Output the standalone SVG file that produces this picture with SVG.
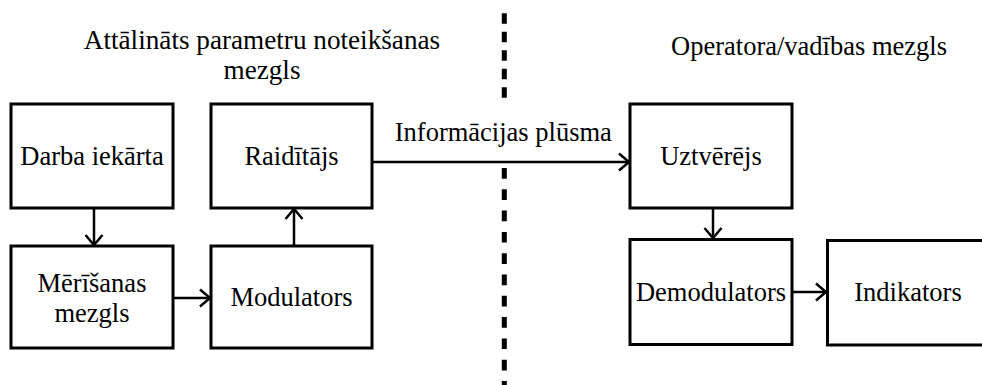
<svg xmlns="http://www.w3.org/2000/svg" width="982" height="385" viewBox="0 0 982 385">
  <style>
    .box { fill: #fff; stroke: #000; stroke-width: 3; }
    .lbl { font-family: "Liberation Serif", "Times New Roman", serif; font-size: 26.5px; fill: #000; text-anchor: middle; }
    .wire { stroke: #000; stroke-width: 2.5; fill: none; }
    .divider { stroke: #000; stroke-width: 5; fill: none; }
  </style>
  <defs>
    <marker id="head" markerUnits="userSpaceOnUse" markerWidth="24" markerHeight="24" viewBox="-12 -12 24 24" refX="0" refY="0" orient="auto">
      <path d="M -10 -8.5 L 0 0 L -10 8.5" fill="none" stroke="#000" stroke-width="2.5"/>
    </marker>
  </defs>

  <rect width="982" height="385" fill="#fff"/>

  <!-- section titles -->
  <g id="title-remote">
    <text class="lbl" x="262" y="49" style="font-size:27.2px">Attālināts parametru noteikšanas</text>
    <text class="lbl" x="262" y="78.5" style="font-size:27.2px">mezgls</text>
  </g>
  <g id="title-operator">
    <text class="lbl" x="809" y="54.5">Operatora/vadības mezgls</text>
  </g>

  <!-- dashed boundary between the two sites -->
  <g id="boundary">
    <line class="divider" x1="504.3" y1="13.3" x2="504.3" y2="98" stroke-dasharray="10.5 8"/>
    <line class="divider" x1="504.3" y1="168" x2="504.3" y2="385" stroke-dasharray="10.7 10.6"/>
  </g>

  <!-- connectors -->
  <g id="connectors">
    <line class="wire" x1="94" y1="208" x2="94" y2="245" marker-end="url(#head)"/>
    <line class="wire" x1="173" y1="298" x2="210" y2="298" marker-end="url(#head)"/>
    <line class="wire" x1="294" y1="246" x2="294" y2="209" marker-end="url(#head)"/>
    <line class="wire" x1="372" y1="162" x2="629" y2="162" marker-end="url(#head)"/>
    <line class="wire" x1="713" y1="208" x2="713" y2="238" marker-end="url(#head)"/>
    <line class="wire" x1="792" y1="292" x2="826" y2="292" marker-end="url(#head)"/>
    <text class="lbl" x="503.3" y="140.5">Informācijas plūsma</text>
  </g>

  <!-- remote sensing node -->
  <g id="darba-iekarta">
    <rect class="box" x="11" y="104" width="162" height="104"/>
    <text class="lbl" x="92" y="165">Darba iekārta</text>
  </g>
  <g id="raiditajs">
    <rect class="box" x="211" y="104" width="161" height="104"/>
    <text class="lbl" x="291.5" y="165">Raidītājs</text>
  </g>
  <g id="merisanas-mezgls">
    <rect class="box" x="11" y="246" width="162" height="102"/>
    <text class="lbl" x="92" y="291.5">Mērīšanas</text>
    <text class="lbl" x="92" y="321.5">mezgls</text>
  </g>
  <g id="modulators">
    <rect class="box" x="211" y="246" width="161" height="102"/>
    <text class="lbl" x="291.5" y="306">Modulators</text>
  </g>

  <!-- operator node -->
  <g id="uztverejs">
    <rect class="box" x="630" y="104" width="162" height="104"/>
    <text class="lbl" x="711" y="165">Uztvērējs</text>
  </g>
  <g id="demodulators">
    <rect class="box" x="630" y="239.5" width="162" height="105"/>
    <text class="lbl" x="711" y="300.5">Demodulators</text>
  </g>
  <g id="indikators">
    <rect class="box" x="827.5" y="240.5" width="162" height="104.5"/>
    <text class="lbl" x="908" y="300.5">Indikators</text>
  </g>
</svg>
